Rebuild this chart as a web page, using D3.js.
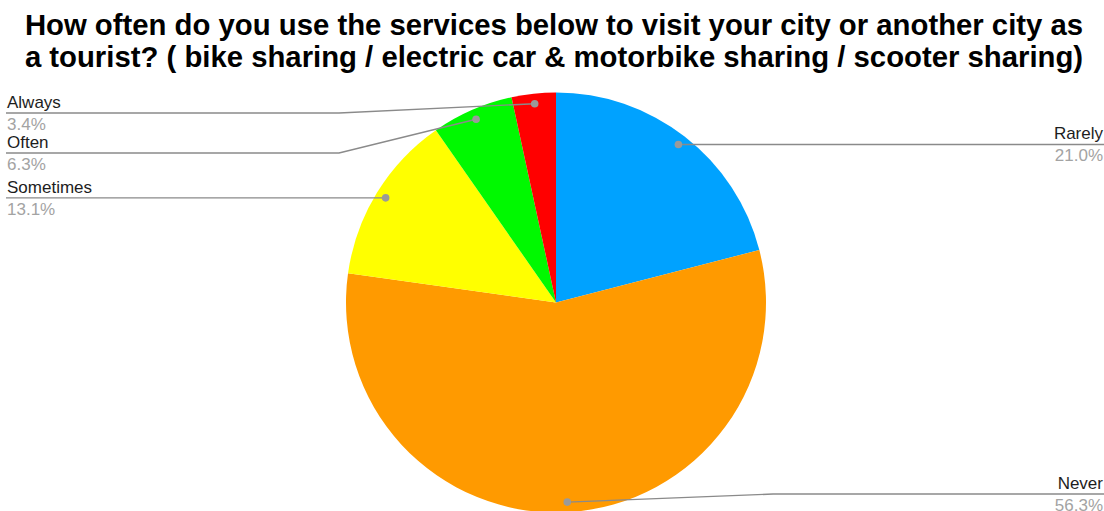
<!DOCTYPE html>
<html>
<head>
<meta charset="utf-8">
<script src="https://cdn.jsdelivr.net/npm/d3@7"></script>
<style>
  html, body { margin: 0; padding: 0; background: #fff; }
  svg { display: block; }
</style>
</head>
<body>
<svg id="chart" width="1104" height="511"></svg>
<script>
// Survey answers, clockwise from 12 o'clock
const categories = ["Rarely", "Never", "Sometimes", "Often", "Always"];
const shares = [21.0, 56.3, 13.1, 6.3, 3.4];
const sliceColors = ["#00A2FF", "#FF9A00", "#FFFF00", "#00F900", "#FF0000"];
const titleLines = [
  "How often do you use the services below to visit your city or another city as",
  "a tourist? ( bike sharing / electric car & motorbike sharing / scooter sharing)"
];

const W = 1104, H = 511;
const cx = 556, cy = 302.5, R = 210;
const svg = d3.select("#chart");
const FONT = "Liberation Sans, Arial, Helvetica, sans-serif";

// Title
svg.append("g")
  .selectAll("text")
  .data(titleLines)
  .join("text")
  .attr("x", 554)
  .attr("y", (d, i) => 34.5 + i * 32)
  .attr("text-anchor", "middle")
  .attr("font-family", FONT)
  .attr("font-weight", "bold")
  .attr("font-size", 29.3)
  .attr("fill", "#000")
  .text(d => d);

const data = categories.map((c, i) => ({ name: c, value: shares[i], color: sliceColors[i] }));

const pie = d3.pie().sort(null).value(d => d.value);
const arcs = pie(data);
const arc = d3.arc().innerRadius(0).outerRadius(R);

const g = svg.append("g").attr("transform", `translate(${cx},${cy})`);
g.selectAll("path")
  .data(arcs)
  .join("path")
  .attr("d", arc)
  .attr("fill", d => d.data.color);

// Callout anchor points near the rim of each slice
const anchorR = R * 0.952;
const anchors = arcs.map(a => {
  const m = (a.startAngle + a.endAngle) / 2;
  return {
    arc: a,
    x: cx + Math.sin(m) * anchorR,
    y: cy - Math.cos(m) * anchorR,
    side: Math.sin(m) >= 0 ? "right" : "left"
  };
});

// Stack labels on each side so that they keep a minimum gap
const gap = 40, topY = 113, bottomY = 494;
["left", "right"].forEach(side => {
  const items = anchors.filter(a => a.side === side).sort((a, b) => a.y - b.y);
  let prev = -Infinity;
  items.forEach(it => {
    it.ly = Math.max(it.y, prev + gap, topY);
    prev = it.ly;
  });
  let next = Infinity;
  for (let i = items.length - 1; i >= 0; i--) {
    items[i].ly = Math.min(items[i].ly, next - gap, bottomY);
    next = items[i].ly;
  }
});

const fmt = v => v.toFixed(1) + "%";
const leftX = 6, rightX = 1104, textRight = 1103;
const bendOffset = R + 7;

const labels = svg.append("g");
anchors.forEach(a => {
  const left = a.side === "left";
  const bx = left ? Math.min(cx - bendOffset, a.x) : Math.max(cx + bendOffset, a.x);
  const pts = left
    ? [[leftX, a.ly], [bx, a.ly], [a.x, a.y]]
    : [[rightX, a.ly], [bx, a.ly], [a.x, a.y]];
  labels.append("path")
    .attr("d", d3.line()(pts))
    .attr("fill", "none")
    .attr("stroke", "#8a8a8a")
    .attr("stroke-width", 1.4);
  labels.append("circle")
    .attr("cx", a.x)
    .attr("cy", a.y)
    .attr("r", 3.8)
    .attr("fill", "#9a9a9a");
  const tx = left ? 7 : textRight;
  const anchor = left ? "start" : "end";
  labels.append("text")
    .attr("x", tx)
    .attr("y", a.ly - 5)
    .attr("text-anchor", anchor)
    .attr("font-family", FONT)
    .attr("font-size", 17)
    .attr("fill", "#1d1d1d")
    .text(a.arc.data.name);
  labels.append("text")
    .attr("x", tx)
    .attr("y", a.ly + 17)
    .attr("text-anchor", anchor)
    .attr("font-family", FONT)
    .attr("font-size", 17)
    .attr("fill", "#a3a3a3")
    .text(fmt(a.arc.data.value));
});
</script>
</body>
</html>
